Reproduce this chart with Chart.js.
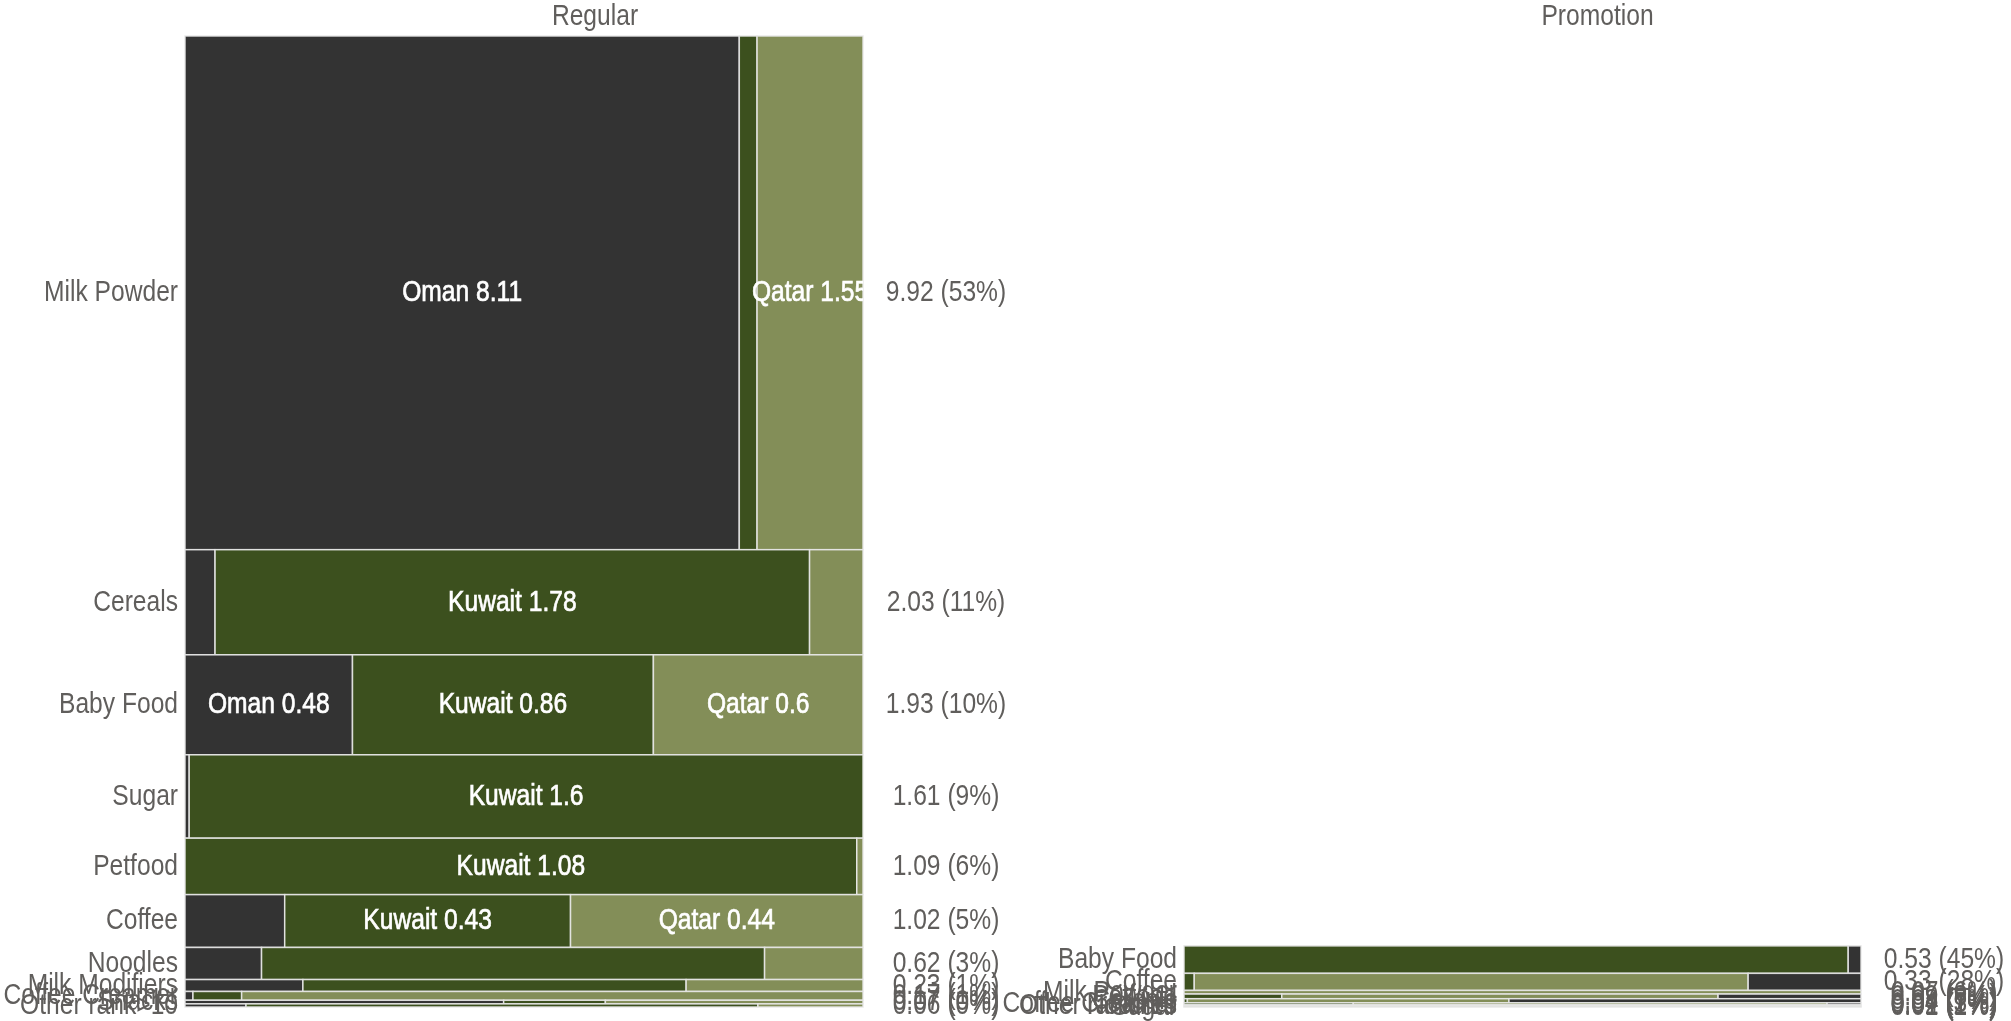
<!DOCTYPE html>
<html>
<head>
<meta charset="utf-8">
<title>Sales by category – Regular vs Promotion</title>
<script src="https://cdn.jsdelivr.net/npm/chart.js@4.4.1/dist/chart.umd.min.js"></script>
<style>
  html, body { margin: 0; padding: 0; background: #ffffff; width: 2011px; height: 1021px; overflow: hidden; }
  .panel { position: absolute; top: 0; height: 1021px; }
  #regularWrap { left: 0; width: 1010px; }
  #promotionWrap { left: 990px; width: 1021px; }
</style>
</head>
<body>
<div class="panel" id="regularWrap"><canvas id="regularChart" width="1010" height="1021"></canvas></div>
<div class="panel" id="promotionWrap"><canvas id="promotionChart" width="1021" height="1021"></canvas></div>
<script>
// Countries and their colours
const countries = ['Oman', 'Kuwait', 'Qatar'];
const countryColors = ['#333333', '#3c501e', '#838e58'];

// Regular sales: categories (top to bottom) and value per country
const regularCategories = ['Milk Powder', 'Cereals', 'Baby Food', 'Sugar', 'Petfood', 'Coffee', 'Noodles', 'Milk Modifiers', 'Coffee Creamer', 'Snacks', 'Other rank>10'];
const regularOman   = [8.11, 0.09, 0.477, 0.01, 0,    0.15, 0.07, 0.04, 0.0020, 0.0329, 0.0054];
const regularKuwait = [0.26, 1.78, 0.857, 1.60, 1.08, 0.43, 0.46, 0.13, 0.0122, 0.0105, 0.0453];
const regularQatar  = [1.55, 0.16, 0.597, 0,    0.01, 0.44, 0.09, 0.06, 0.1558, 0.0266, 0.0093];

// Promotion sales: categories (top to bottom) and value per country
const promotionCategories = ['Baby Food', 'Coffee', 'Milk Powder', 'Petfood', 'Cereals', 'Coffee Creamer', 'Other rank>10', 'Noodles', 'Sugar'];
const promotionOman   = [0.01, 0.055, 0,    0.019, 0.0416, 0.002, 0,    0,    0];
const promotionKuwait = [0.52, 0.005, 0,    0.013, 0.0004, 0.010, 0,    0,    0];
const promotionQatar  = [0,    0.27,  0.07, 0.058, 0.038,  0.028, 0.02, 0.01, 0.01];

// Order of the countries inside each row, per panel
const regularOrder = ['Oman', 'Kuwait', 'Qatar'];
const promotionOrder = ['Kuwait', 'Qatar', 'Oman'];

const FONT = "'Liberation Sans', Arial, sans-serif";
const FONT_SIZE = 30;
const NARROW = 0.82;            // horizontal squeeze giving a condensed face
const TEXT_COLOR = '#605e5c';

function fmt(v) { return String(Number(v.toFixed(2))); }

function buildRows(categories, seriesMap, order) {
  return categories.map((name, i) => {
    const cells = order.map(c => ({
      country: c,
      value: seriesMap[c][i],
      color: countryColors[countries.indexOf(c)]
    }));
    const total = cells.reduce((s, c) => s + c.value, 0);
    return { name, cells, total };
  });
}

const regularRows = buildRows(regularCategories, { Oman: regularOman, Kuwait: regularKuwait, Qatar: regularQatar }, regularOrder);
const promotionRows = buildRows(promotionCategories, { Oman: promotionOman, Kuwait: promotionKuwait, Qatar: promotionQatar }, promotionOrder);

const regularTotal = regularRows.reduce((s, r) => s + r.total, 0);
const promotionTotal = promotionRows.reduce((s, r) => s + r.total, 0);
// Both panels share one vertical scale; rows stack downward and end at the bottom.
const axisMax = Math.max(regularTotal, promotionTotal);

function placeRows(rows, panelTotal) {
  let start = axisMax - panelTotal;
  rows.forEach(r => { r.start = start; r.center = start + r.total / 2; start += r.total; });
}
placeRows(regularRows, regularTotal);
placeRows(promotionRows, promotionTotal);

// Condensed text helper; 'heavy' adds a hairline outline for the in-cell labels
function narrowText(ctx, text, x, y, align, color, heavy) {
  ctx.save();
  ctx.font = FONT_SIZE + 'px ' + FONT;
  ctx.fillStyle = color;
  ctx.textAlign = align;
  ctx.textBaseline = 'middle';
  ctx.translate(x, y);
  ctx.scale(NARROW, 1);
  ctx.fillText(text, 0, 0);
  if (heavy) {
    ctx.strokeStyle = color;
    ctx.lineWidth = 0.7;
    ctx.strokeText(text, 0, 0);
  }
  ctx.restore();
}

// Draws the variable-height rows and their country segments through the chart scales
const mekkoPlugin = {
  id: 'mekkoCells',
  beforeDatasetsDraw(chart, args, opts) {
    const { ctx, chartArea, scales: { x, y } } = chart;
    const rows = opts.rows;
    ctx.save();
    rows.forEach(row => {
      const yTop = y.getPixelForValue(row.start);
      const yBot = y.getPixelForValue(row.start + row.total);
      let acc = 0;
      row.cells.forEach(cell => {
        if (cell.value <= 0) return;
        const xl = x.getPixelForValue(acc / row.total);
        acc += cell.value;
        const xr = x.getPixelForValue(acc / row.total);
        ctx.fillStyle = cell.color;
        ctx.fillRect(xl, yTop, xr - xl, yBot - yTop);
        ctx.strokeStyle = 'rgba(232,232,232,0.9)';
        ctx.lineWidth = 1.5;
        ctx.strokeRect(xl, yTop, xr - xl, yBot - yTop);
        cell.px = { xl, xr, yTop, yBot };
      });
    });
    // segment labels
    ctx.beginPath();
    ctx.rect(chartArea.left, chartArea.top, chartArea.right - chartArea.left, chartArea.bottom - chartArea.top);
    ctx.clip();
    rows.forEach(row => {
      if (row.total < 1) return;
      row.cells.forEach(cell => {
        if (cell.value < 0.4 || !cell.px) return;
        const cx = (cell.px.xl + cell.px.xr) / 2;
        const cy = (cell.px.yTop + cell.px.yBot) / 2;
        narrowText(ctx, cell.country + ' ' + fmt(cell.value), cx, cy, 'center', '#ffffff', true);
      });
    });
    ctx.restore();
  }
};

// Category names, row totals and the panel heading
const panelTextPlugin = {
  id: 'panelText',
  afterDraw(chart, args, opts) {
    const { ctx, chartArea } = chart;
    const left = chart.scales.y, right = chart.scales.yTotals;
    left.ticks.forEach((t, i) => {
      narrowText(ctx, opts.leftLabels[i], chartArea.left - 7, left.getPixelForTick(i), 'right', TEXT_COLOR);
    });
    right.ticks.forEach((t, i) => {
      narrowText(ctx, opts.rightLabels[i], chartArea.right + 83, right.getPixelForTick(i), 'center', TEXT_COLOR);
    });
    narrowText(ctx, opts.title, (chartArea.left + opts.titleRight) / 2, 17, 'center', TEXT_COLOR);
  }
};

function makePanel(canvasId, titleText, rows, panelTotal, leftWidth, plotWidth, titleRight) {
  const centers = rows.map(r => r.center);
  const leftLabels = rows.map(r => r.name);
  const rightLabels = rows.map(r => fmt(r.total) + ' (' + Math.round(r.total / panelTotal * 100) + '%)');
  const canvas = document.getElementById(canvasId);
  const rightWidth = canvas.width - leftWidth - plotWidth;
  const fitAxis = w => s => { s.width = w; s.paddingTop = 0; s.paddingBottom = 0; };
  return new Chart(canvas, {
    type: 'scatter',
    data: { datasets: [] },
    options: {
      responsive: false,
      animation: false,
      devicePixelRatio: 1,
      layout: { padding: { top: 36, bottom: 14, left: 0, right: 0 } },
      plugins: {
        legend: { display: false },
        title: { display: false },
        tooltip: { enabled: false },
        mekkoCells: { rows },
        panelText: { leftLabels, rightLabels, title: titleText, titleRight }
      },
      scales: {
        x: { type: 'linear', min: 0, max: 1, display: false },
        y: {
          type: 'linear', position: 'left', min: 0, max: axisMax, reverse: true, display: true,
          grid: { display: false, drawTicks: false }, border: { display: false },
          afterBuildTicks: s => { s.ticks = centers.map(v => ({ value: v })); },
          afterFit: fitAxis(leftWidth),
          ticks: { display: false, autoSkip: false }
        },
        yTotals: {
          type: 'linear', position: 'right', min: 0, max: axisMax, reverse: true, display: true,
          grid: { display: false, drawTicks: false }, border: { display: false },
          afterBuildTicks: s => { s.ticks = centers.map(v => ({ value: v })); },
          afterFit: fitAxis(rightWidth),
          ticks: { display: false, autoSkip: false }
        }
      }
    },
    plugins: [mekkoPlugin, panelTextPlugin]
  });
}

makePanel('regularChart', 'Regular', regularRows, regularTotal, 185, 678, 1005);
makePanel('promotionChart', 'Promotion', promotionRows, promotionTotal, 194, 677, 1021);
</script>
</body>
</html>
